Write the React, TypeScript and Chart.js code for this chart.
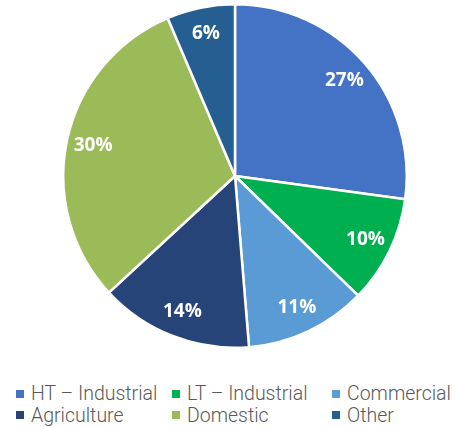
import React, { useEffect, useRef } from "react";
import { Chart, registerables } from "chart.js";

Chart.register(...registerables);

const categories = ["HT – Industrial", "LT – Industrial", "Commercial", "Agriculture", "Domestic", "Other"];
const shares = [27.1, 10.1, 11.4, 14.4, 30.4, 6.4];
const colors = ["#4472C4", "#00B050", "#5B9BD5", "#264478", "#9BBB59", "#255E91"];

const labelPlugin = {
  id: "sliceLabels",
  afterDatasetsDraw(chart: any) {
    const ctx = chart.ctx;
    const meta = chart.getDatasetMeta(0);
    const data = chart.data.datasets[0].data as number[];
    const total = data.reduce((a, b) => a + b, 0);
    ctx.save();
    ctx.fillStyle = "#ffffff";
    ctx.font = "bold 19px 'Open Sans', 'Liberation Sans', sans-serif";
    ctx.textAlign = "center";
    ctx.textBaseline = "middle";
    meta.data.forEach((arc: any, i: number) => {
      const mid = (arc.startAngle + arc.endAngle) / 2;
      const r = arc.outerRadius * 0.845;
      const x = arc.x + Math.cos(mid) * r;
      const y = arc.y + Math.sin(mid) * r;
      ctx.fillText(Math.round((data[i] / total) * 100) + "%", x, y);
    });
    ctx.restore();
  },
};

export default function App() {
  const ref = useRef<HTMLCanvasElement | null>(null);
  useEffect(() => {
    if (!ref.current) return;
    const chart = new Chart(ref.current, {
      type: "pie",
      data: {
        labels: categories,
        datasets: [
          {
            data: shares,
            backgroundColor: colors,
            borderColor: "#ffffff",
            borderWidth: 2.5,
          },
        ],
      },
      options: {
        responsive: false,
        animation: false,
        layout: { padding: 0 },
        plugins: {
          legend: { display: false },
          tooltip: { enabled: false },
        },
      },
      plugins: [labelPlugin],
    });
    return () => chart.destroy();
  }, []);

  return (
    <div style={{ position: "absolute", left: 0, top: 0, width: 455, height: 427, background: "#fff", overflow: "hidden" }}>
      <canvas ref={ref} width={346} height={346} style={{ position: "absolute", left: 62, top: 2.5, width: 346, height: 346 }} />
      <div
        style={{
          position: "absolute",
          left: 16,
          top: 383,
          display: "grid",
          gridTemplateColumns: "156px 160px auto",
          fontFamily: "Roboto, sans-serif",
          fontWeight: 300,
          fontSize: 19.5,
          lineHeight: "21.5px",
          color: "#595959",
          whiteSpace: "nowrap",
        }}
      >
        {categories.map((c, i) => (
          <div key={c} style={{ display: "flex", alignItems: "center" }}>
            <span style={{ display: "inline-block", width: 8, height: 8, background: colors[i], marginRight: 7 }} />
            <span>{c}</span>
          </div>
        ))}
      </div>
    </div>
  );
}
